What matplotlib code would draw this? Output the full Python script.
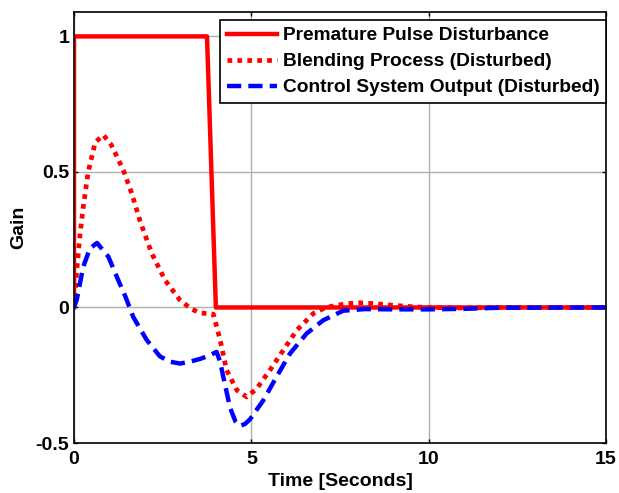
import numpy as np
import matplotlib
matplotlib.use('Agg')
import matplotlib.pyplot as plt

plt.rcParams['font.family'] = ['Liberation Sans', 'DejaVu Sans']
plt.rcParams['font.weight'] = 'bold'

# pulse disturbance
pulse_t = [0, 0, 3.75, 4.0, 15]
pulse_y = [0, 1, 1, 0, 0]

# blending process (disturbed)
blend_t = [0, 0.08, 0.17, 0.26, 0.40, 0.60, 0.83, 1.05, 1.39, 1.63, 1.86, 2.19, 2.57,
           2.99, 3.30, 3.55, 3.93, 4.12, 4.30, 4.59, 4.87, 5.15, 5.53, 5.90, 6.28,
           6.75, 7.10, 7.41, 7.70, 8.06, 8.50, 9.0, 9.5, 10.0, 11.0, 12.0, 15.0]
blend_y = [0, 0.14, 0.27, 0.37, 0.50, 0.61, 0.636, 0.60, 0.507, 0.42, 0.32, 0.20, 0.10,
           0.027, -0.005, -0.02, -0.025, -0.12, -0.23, -0.305, -0.33, -0.30, -0.23, -0.158, -0.084,
           -0.022, 0.0, 0.008, 0.014, 0.017, 0.014, 0.008, 0.003, 0.0, -0.002, 0.0, 0.0]

# control system output (disturbed)
ctrl_t = [0, 0.08, 0.26, 0.45, 0.65, 0.97, 1.25, 1.45, 1.67, 2.05, 2.42, 2.70, 2.99,
          3.27, 3.55, 3.80, 4.02, 4.12, 4.21, 4.40, 4.55, 4.68, 4.82, 4.96, 5.34, 5.71, 6.09, 6.56,
          7.03, 7.59, 8.2, 9.0, 10.0, 11.0, 12.0, 15.0]
ctrl_y = [0, 0.03, 0.15, 0.218, 0.238, 0.187, 0.10, 0.04, -0.035, -0.12, -0.18, -0.20, -0.207,
          -0.20, -0.19, -0.178, -0.164, -0.20, -0.256, -0.37, -0.42, -0.437, -0.43, -0.413, -0.342, -0.256, -0.17, -0.096,
          -0.047, -0.012, -0.006, -0.007, -0.007, -0.005, -0.001, 0.0]

fig = plt.figure(figsize=(6.19, 4.93), dpi=100)
ax = fig.add_axes([74/619, 1 - 443/493, (606 - 74)/619, (443 - 12)/493])

ax.plot(pulse_t, pulse_y, color='#ff0000', lw=3.2, linestyle='-', label='Premature Pulse Disturbance')
ax.plot(blend_t, blend_y, color='#ff0000', lw=3.4, linestyle=(0, (1, 1.1)), dash_capstyle='butt',
        label='Blending Process (Disturbed)')
ax.plot(ctrl_t, ctrl_y, color='#0000ff', lw=3.2, linestyle=(0, (3.2, 1.6)), dash_capstyle='butt',
        label='Control System Output (Disturbed)')

ax.set_xlim(0, 15)
ax.set_ylim(-0.5, 1.09)
ax.set_xticks([0, 5, 10, 15])
ax.set_yticks([-0.5, 0, 0.5, 1])
ax.set_yticklabels(['-0.5', '0', '0.5', '1'])
ax.grid(True, color='#b0b0b0', lw=1)
ax.tick_params(direction='in', top=True, right=True, length=3, labelsize=14, width=1)
ax.tick_params(axis='x', pad=6)
for lbl in ax.get_xticklabels() + ax.get_yticklabels():
    lbl.set_fontweight('bold')
for s in ax.spines.values():
    s.set_linewidth(1.2)

ax.set_xlabel('Time [Seconds]', fontsize=14, fontweight='bold', labelpad=3)
ax.set_ylabel('Gain', fontsize=14, fontweight='bold', labelpad=6)

leg = ax.legend(loc='upper right', bbox_to_anchor=(1.0, 0.981), fontsize=13.8, fancybox=False,
                framealpha=1, edgecolor='black', handlelength=2.6, borderpad=0.35,
                labelspacing=0.45, handletextpad=0.3, borderaxespad=0.0)
leg.get_frame().set_linewidth(1.2)

fig.savefig('out.png', dpi=100)
